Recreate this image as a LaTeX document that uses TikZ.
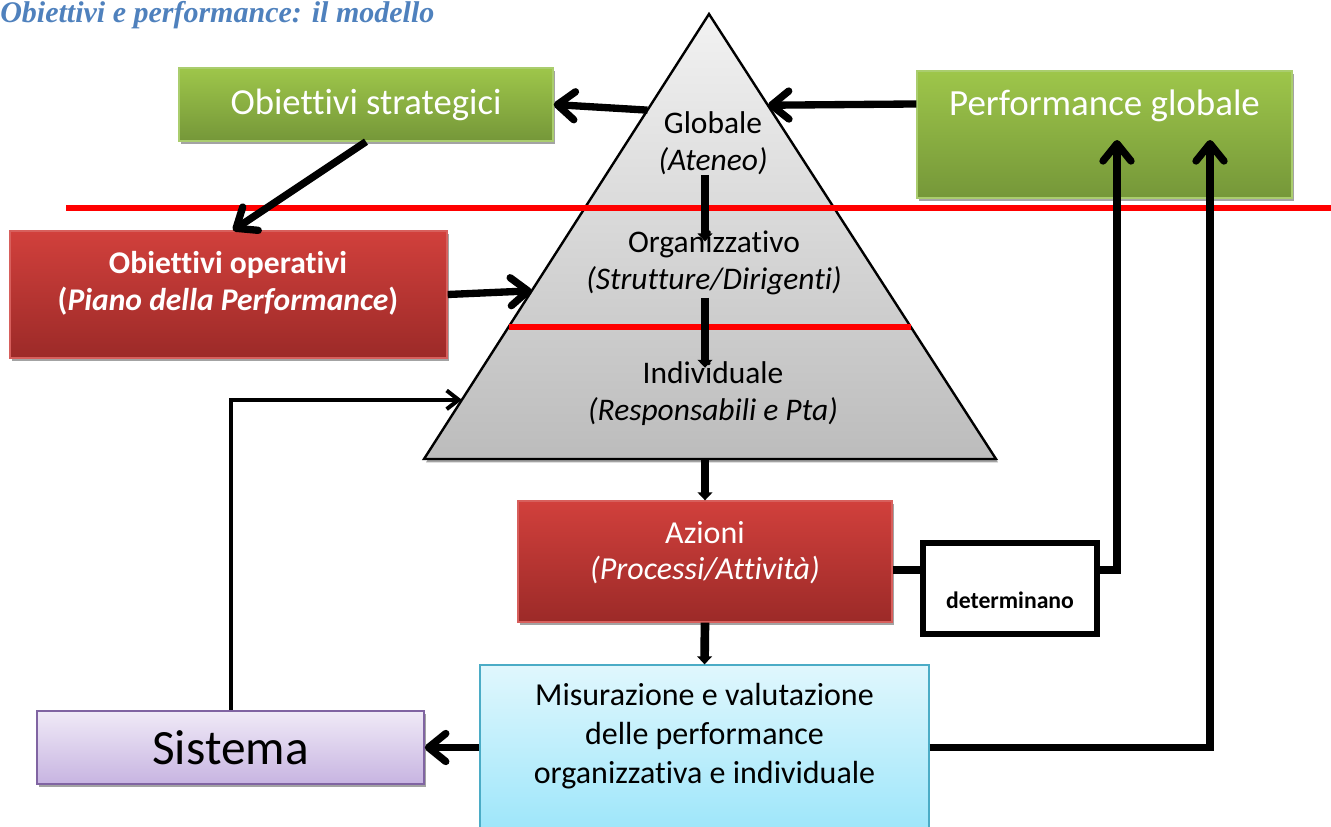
\documentclass[tikz,border=0pt]{standalone}
\usepackage{fontspec}
\setmainfont{Carlito}[Ligatures=NoCommon]
\newfontfamily\titlefont{Liberation Serif}
\usetikzlibrary{arrows.meta,calc,shadows}

\definecolor{titleblue}{RGB}{79,129,189}
\definecolor{greentop}{RGB}{158,198,74}
\definecolor{greenbot}{RGB}{117,151,57}
\definecolor{greenedge}{RGB}{170,205,110}
\definecolor{redtop}{RGB}{209,64,60}
\definecolor{redbot}{RGB}{156,42,40}
\definecolor{rededge}{RGB}{215,95,92}
\definecolor{cyantop}{RGB}{224,247,253}
\definecolor{cyanbot}{RGB}{158,230,250}
\definecolor{cyanedge}{RGB}{75,172,198}
\definecolor{violatop}{RGB}{240,234,247}
\definecolor{violabot}{RGB}{199,180,225}
\definecolor{violaedge}{RGB}{128,100,162}
\definecolor{pyrtop}{RGB}{242,242,242}
\definecolor{pyrbot}{RGB}{188,188,188}

\tikzset{
  box/.style={rectangle, inner sep=0pt,
    drop shadow={shadow xshift=1.5pt, shadow yshift=-2.5pt, fill=black!40, opacity=0.9}},
  verde/.style={box, draw=greenedge, line width=1pt, top color=greentop, bottom color=greenbot, text=white},
  rosso/.style={box, draw=rededge, line width=1pt, top color=redtop, bottom color=redbot, text=white},
  ciano/.style={rectangle, inner sep=0pt, draw=cyanedge, line width=1pt, top color=cyantop, bottom color=cyanbot},
  viola/.style={box, draw=violaedge, line width=1.2pt, top color=violatop, bottom color=violabot},
  testo/.style={inner sep=0pt, align=center},
  freccia/.style={line width=5.5pt, -{Straight Barb[length=13pt,width=21pt,round]}},
  frecciapic/.style={line width=6.5pt, -{Triangle[length=6pt,width=11pt]}},
  sottile/.style={line width=3pt, -{Straight Barb[length=9pt,width=14pt]}},
  linea/.style={line width=5.5pt},
  rossa/.style={red, line width=4.6pt},
}

\begin{document}
\begin{tikzpicture}[x=0.75pt, y=-0.75pt]
\useasboundingbox (0,0) rectangle (1331,826);

% titolo
\node[anchor=base west, inner sep=0pt, text=titleblue,
  font=\titlefont\bfseries\itshape\fontsize{22.5}{26}\selectfont] (titolo) at (0,22)
  {Obiettivi e performance: il modello};

% piramide
\coordinate (apex) at (709,14);
\coordinate (baseL) at (424,459);
\coordinate (baseR) at (996,459);
\draw[line width=1.8pt, top color=pyrtop, bottom color=pyrbot,
  drop shadow={shadow xshift=1.5pt, shadow yshift=-2.5pt, fill=black!40, opacity=0.9}]
  (apex) -- (baseL) -- (baseR) -- cycle;
\coordinate (pyrG) at ($(apex)!0.216!(baseL)$);
\coordinate (pyrP) at ($(apex)!0.205!(baseR)$);
\coordinate (pyrO) at ($(apex)!0.622!(baseL)$);
\coordinate (pyrS) at ($(apex)!0.867!(baseL)$);
\coordinate (pyrbase) at (705,459);

% linee rosse
\draw[rossa] (66,208) -- (1331,208);
\draw[rossa] ($(apex)!0.703!(baseL)$) -- ($(apex)!0.703!(baseR)$);

% testi della piramide
\node[testo, font=\fontsize{23.6}{27.75}\selectfont] (glob) at (713,143) {Globale\\\textit{(Ateneo)}};
\node[testo, font=\fontsize{23.6}{27.75}\selectfont] (org) at (714,263) {Organizzativo\\\textit{(Strutture/Dirigenti)}};
\node[testo, font=\fontsize{23.6}{27.75}\selectfont] (ind) at (713,394) {Individuale\\\textit{(Responsabili e Pta)}};

% riquadri
\node[verde, minimum width=280.5pt, minimum height=54.75pt,
  font=\fontsize{27.5}{33}\selectfont] (strategici) at (366,104.5) {Obiettivi strategici};
\node[verde, minimum width=281.25pt, minimum height=95.25pt] (perf) at (1104.5,134.5) {};
\node[testo, text=white, font=\fontsize{27.7}{33}\selectfont] (perftxt) at (1104.5,106) {Performance globale};

\node[rosso, minimum width=327.75pt, minimum height=95.25pt] (operativi) at (228.5,294.5) {};
\node[testo, text=white, font=\bfseries\fontsize{23.7}{27.75}\selectfont] (operativitxt) at (228,283)
  {Obiettivi operativi\\(\textit{Piano della Performance})};

\node[rosso, minimum width=280.5pt, minimum height=90.75pt] (azioni) at (705,561.5) {};
\node[testo, text=white, font=\fontsize{24}{27}\selectfont] (azionitxt) at (705,553)
  {Azioni\\\textit{(Processi/Attività)}};

\node[draw, fill=white, line width=4.4pt, minimum width=130pt, minimum height=68pt] (determinano) at (1010,588.5) {};
\node[testo, font=\bfseries\fontsize{17.8}{20}\selectfont] (determinanotxt) at (1010,600) {determinano};

\node[ciano, minimum width=336.75pt, minimum height=123.75pt] (misura) at (704.5,747.5) {};
\node[testo, font=\fontsize{24}{29.25}\selectfont] (misuratxt) at (704.5,736)
  {Misurazione e valutazione\\delle performance\\organizzativa e individuale};

\node[viola, minimum width=290.25pt, minimum height=54.75pt,
  font=\fontsize{37}{40}\selectfont] (sistema) at (230.5,747.5) {Sistema};

\coordinate (perfA) at (1117,140);
\coordinate (perfB) at (1210,140);

% frecce
\draw[freccia] (pyrG) -- (strategici.east);
\draw[freccia] ([yshift=22.9pt]perf.west) -- (pyrP);
\draw[freccia] (strategici.south) -- ([xshift=3.4pt]operativi.north);
\draw[freccia] (operativi.east) -- (pyrO);
\draw[sottile] (sistema.north) |- (pyrS);

\draw[frecciapic] ([xshift=-6pt]glob.south) -- ([xshift=-6.75pt, yshift=-8pt]org.north);
\draw[frecciapic] ([xshift=-6.75pt, yshift=-2pt]org.south) -- ([xshift=-6pt, yshift=-4.5pt]ind.north);
\draw[frecciapic] (pyrbase) -- (azioni.north);
\draw[frecciapic] (azioni.south) -- (misura.north);

\draw[linea] ([yshift=13.9pt]determinano.west -| azioni.east) -- ([yshift=13.9pt]determinano.west);
\draw[freccia] ([yshift=13.9pt]determinano.east) -| (perfA);
\draw[freccia] (misura.east) -| (perfB);
\draw[freccia] (misura.west) -- (sistema.east);
\end{tikzpicture}
\end{document}
